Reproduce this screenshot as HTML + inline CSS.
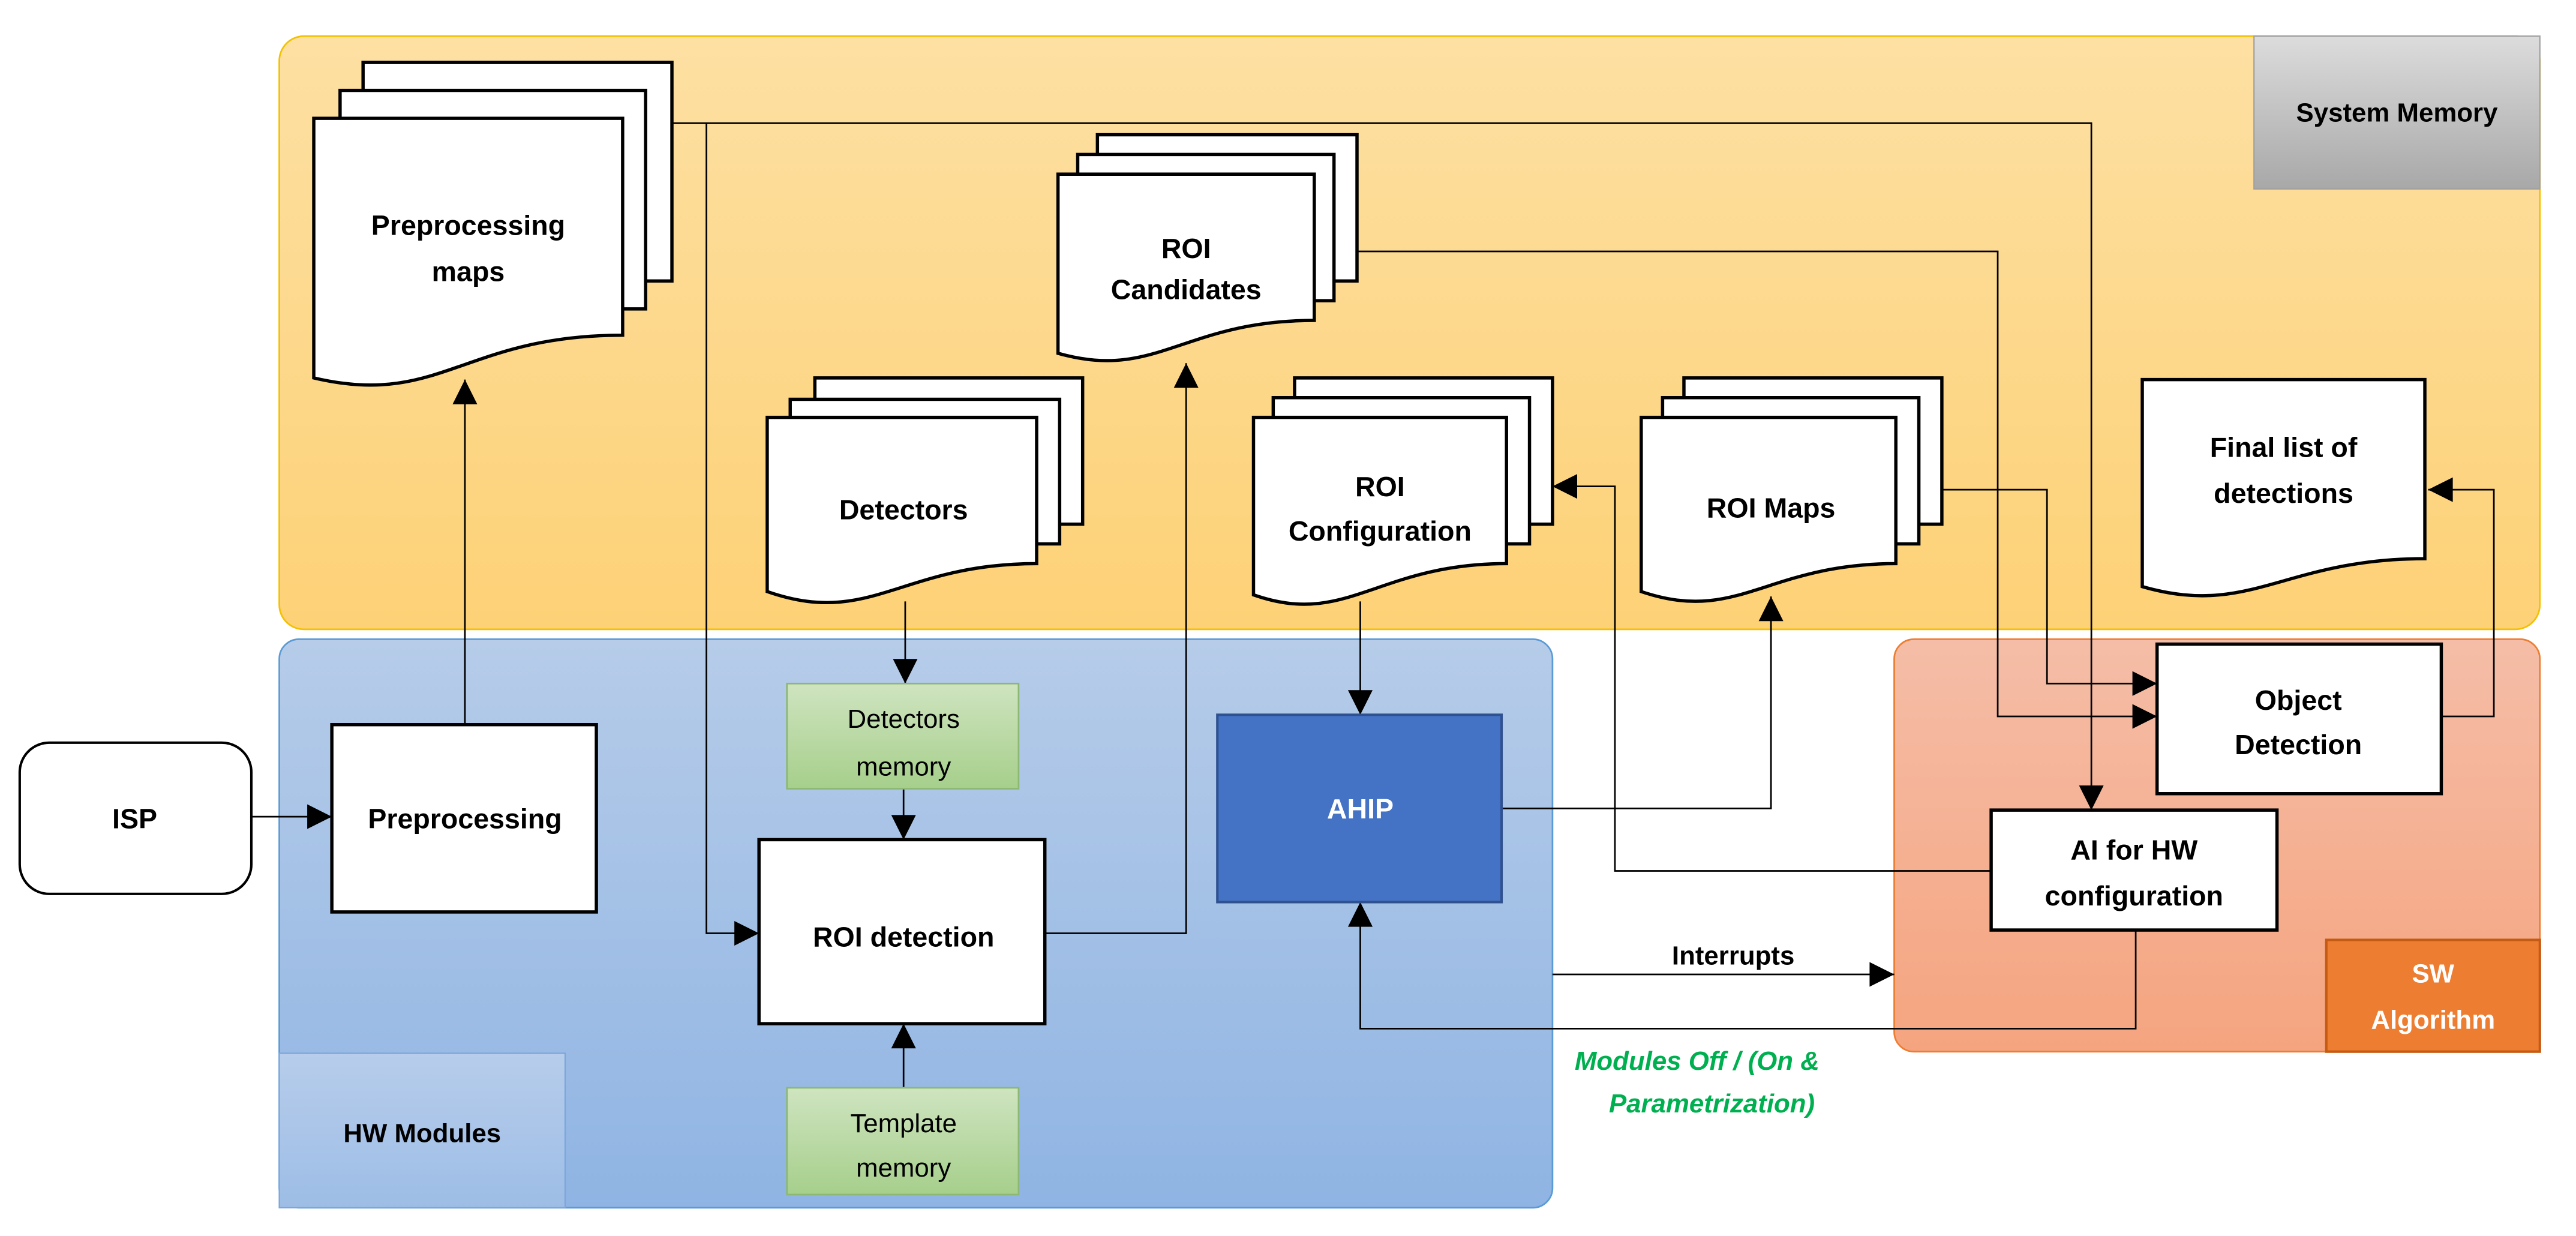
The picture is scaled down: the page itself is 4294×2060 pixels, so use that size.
<!DOCTYPE html>
<html><head><meta charset="utf-8"><style>html,body{margin:0;padding:0;background:#fff}svg{display:block}</style></head>
<body>
<svg width="4294" height="2060" viewBox="0 0 1568 752.2" preserveAspectRatio="none" xmlns="http://www.w3.org/2000/svg" font-family="Liberation Sans, sans-serif">
<defs>
<linearGradient id="gy" x1="0" y1="0" x2="0" y2="1"><stop offset="0" stop-color="#fde0a3"/><stop offset="1" stop-color="#fdd176"/></linearGradient>
<linearGradient id="gb" x1="0" y1="0" x2="0" y2="1"><stop offset="0" stop-color="#b6cce9"/><stop offset="1" stop-color="#8fb4e3"/></linearGradient>
<linearGradient id="go" x1="0" y1="0" x2="0" y2="1"><stop offset="0" stop-color="#f5bda7"/><stop offset="1" stop-color="#f5a47f"/></linearGradient>
<linearGradient id="gg" x1="0" y1="0" x2="0" y2="1"><stop offset="0" stop-color="#cfe4c0"/><stop offset="1" stop-color="#a6cf8b"/></linearGradient>
<linearGradient id="gs" x1="0" y1="0" x2="0" y2="1"><stop offset="0" stop-color="#dcdcdc"/><stop offset="1" stop-color="#a8a8a8"/></linearGradient>
<linearGradient id="gh" x1="0" y1="0" x2="0" y2="1"><stop offset="0" stop-color="#b7cdeb"/><stop offset="1" stop-color="#9dbde6"/></linearGradient>
<marker id="a" viewBox="0 0 10 10" refX="10" refY="5" markerWidth="17" markerHeight="15" markerUnits="userSpaceOnUse" orient="auto"><path d="M0,0L10,5L0,10z" fill="#000"/></marker>
</defs>

<rect x="170" y="22" width="1376" height="361" rx="15" fill="url(#gy)" stroke="#f5c000" stroke-width="1"/>
<path d="M1372,22H1546V115H1372Z" fill="url(#gs)" stroke="#a0a0a0" stroke-width="0.8"/>
<text x="1459" y="74" font-size="16" font-weight="bold" text-anchor="middle">System Memory</text>

<rect x="170" y="389" width="775" height="346" rx="12" fill="url(#gb)" stroke="#5b9bd5" stroke-width="1"/>
<rect x="170" y="641" width="174" height="94" fill="url(#gh)" stroke="#7aa6da" stroke-width="0.8"/>
<text x="257" y="695" font-size="16" font-weight="bold" text-anchor="middle">HW Modules</text>

<rect x="1153" y="389" width="393" height="251" rx="12" fill="url(#go)" stroke="#ed7d31" stroke-width="1"/>
<rect x="1416" y="572" width="130" height="68" fill="#ed7d31" stroke="#c55a11" stroke-width="1.5"/>
<text x="1481" y="598" font-size="16" font-weight="bold" fill="#fff" text-anchor="middle">SW</text>
<text x="1481" y="626" font-size="16" font-weight="bold" fill="#fff" text-anchor="middle">Algorithm</text>

<g fill="none" stroke="#000" stroke-width="1">
<path d="M409,75H1273V493" marker-end="url(#a)"/>
<path d="M430,75V568H462" marker-end="url(#a)"/>
<path d="M283,441V231" marker-end="url(#a)"/>
<path d="M153,497H202" marker-end="url(#a)"/>
<path d="M826,153H1216V436H1313" marker-end="url(#a)"/>
<path d="M1182,298H1246V416H1313" marker-end="url(#a)"/>
<path d="M551,366V416" marker-end="url(#a)"/>
<path d="M550,480V511" marker-end="url(#a)"/>
<path d="M550,662V623" marker-end="url(#a)"/>
<path d="M636,568H722V221" marker-end="url(#a)"/>
<path d="M828,366V435" marker-end="url(#a)"/>
<path d="M1300,566V626H828V549" marker-end="url(#a)"/>
<path d="M914,492H1078V363" marker-end="url(#a)"/>
<path d="M1212,530H983V296H945" marker-end="url(#a)"/>
<path d="M1486,436H1518V298H1478" marker-end="url(#a)"/>
<path d="M945,593H1153" marker-end="url(#a)"/>
</g>

<g fill="#fff" stroke="#000" stroke-width="2">
<rect x="221" y="38" width="188" height="133"/>
<rect x="207" y="55" width="186" height="133"/>
<path d="M191,72H379V204C282,204 268,248 191,230Z"/>

<rect x="668" y="82" width="158" height="89"/>
<rect x="656" y="94" width="156" height="89"/>
<path d="M644,106H800V195C720,195 704,232 644,215Z"/>

<rect x="496" y="230" width="163" height="89"/>
<rect x="481" y="243" width="164" height="88"/>
<path d="M467,254H631V343C548,343 530,382 467,360Z"/>

<rect x="788" y="230" width="157" height="89"/>
<rect x="775" y="242" width="156" height="89"/>
<path d="M763,254H917V343C838,343 820,382 763,362Z"/>

<rect x="1025" y="230" width="157" height="89"/>
<rect x="1012" y="242" width="156" height="89"/>
<path d="M999,254H1154V343C1075,343 1058,380 999,360Z"/>

<path d="M1304,231H1476V340C1390,340 1370,376 1304,357Z"/>
</g>

<rect x="12" y="452" width="141" height="92" rx="18" fill="#fff" stroke="#000" stroke-width="1.5"/>
<rect x="202" y="441" width="161" height="114" fill="#fff" stroke="#000" stroke-width="2"/>
<rect x="479" y="416" width="141" height="64" fill="url(#gg)" stroke="#8cb873" stroke-width="1"/>
<rect x="479" y="662" width="141" height="65" fill="url(#gg)" stroke="#8cb873" stroke-width="1"/>
<rect x="462" y="511" width="174" height="112" fill="#fff" stroke="#000" stroke-width="2"/>
<rect x="741" y="435" width="173" height="114" fill="#4472c4" stroke="#2f528f" stroke-width="1.5"/>
<rect x="1313" y="392" width="173" height="91" fill="#fff" stroke="#000" stroke-width="2"/>
<rect x="1212" y="493" width="174" height="73" fill="#fff" stroke="#000" stroke-width="2"/>

<g font-size="17" font-weight="bold" text-anchor="middle">
<text x="285" y="143">Preprocessing</text>
<text x="285" y="171">maps</text>
<text x="722" y="157">ROI</text>
<text x="722" y="182">Candidates</text>
<text x="550" y="316">Detectors</text>
<text x="840" y="302">ROI</text>
<text x="840" y="329">Configuration</text>
<text x="1078" y="315">ROI Maps</text>
<text x="1390" y="278">Final list of</text>
<text x="1390" y="306">detections</text>
<text x="82" y="504">ISP</text>
<text x="283" y="504">Preprocessing</text>
<text x="550" y="576">ROI detection</text>
<text x="828" y="498" fill="#fff">AHIP</text>
<text x="1399" y="432">Object</text>
<text x="1399" y="459">Detection</text>
<text x="1299" y="523">AI for HW</text>
<text x="1299" y="551">configuration</text>
</g>
<g font-size="16" text-anchor="middle">
<text x="550" y="443">Detectors</text>
<text x="550" y="472">memory</text>
<text x="550" y="689">Template</text>
<text x="550" y="716">memory</text>
</g>
<text x="1055" y="587" font-size="16" font-weight="bold" text-anchor="middle">Interrupts</text>
<g font-size="16" font-weight="bold" font-style="italic" fill="#00b050" text-anchor="middle">
<text x="1033" y="651">Modules Off / (On &amp;</text>
<text x="1042" y="677">Parametrization)</text>
</g>
</svg>
</body></html>
